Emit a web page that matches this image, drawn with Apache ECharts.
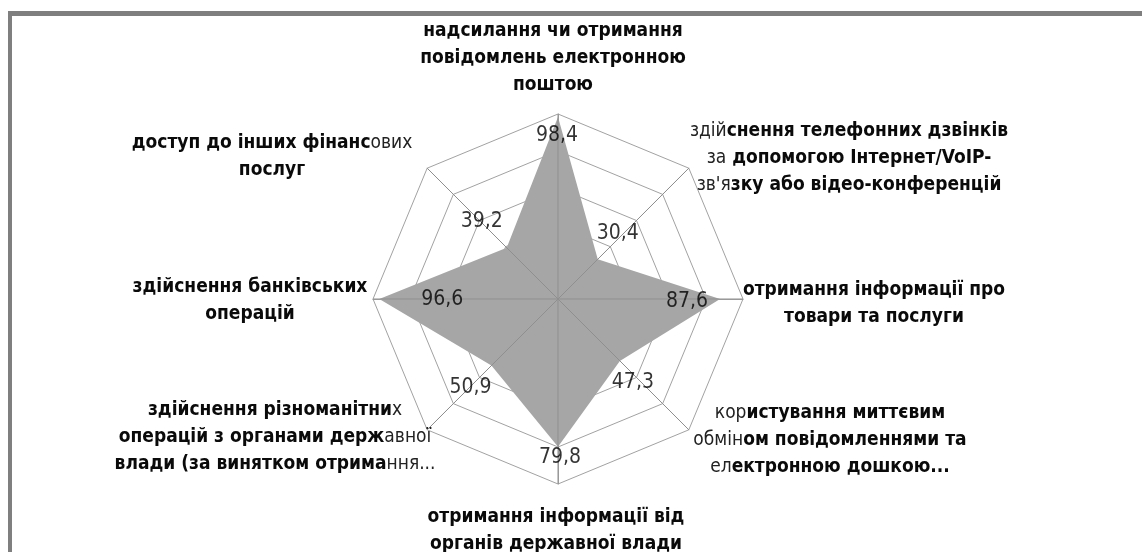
<!DOCTYPE html>
<html><head><meta charset="utf-8">
<script src="https://cdn.jsdelivr.net/npm/echarts@6/dist/echarts.min.js"></script>
<style>html,body{margin:0;padding:0;background:#fff}#c{width:1142px;height:552px}</style>
</head><body><div id="c"></div>
<script>
// ---- data (Excel order, clockwise from top) ----
const categories = [
  "надсилання чи отримання\nповідомлень електронною\nпоштою",
  "здійснення телефонних дзвінків\nза допомогою Інтернет/VoIP-\nзв'язку або відео-конференцій",
  "отримання інформації про\nтовари та послуги",
  "користування миттєвим\nобміном повідомленнями та\nелектронною дошкою...",
  "отримання інформації від\nорганів державної влади",
  "здійснення різноманітних\nоперацій з органами державної\nвлади (за винятком отримання...",
  "здійснення банківських\nоперацій",
  "доступ до інших фінансових\nпослуг"
];
const values = [98.4, 30.4, 87.6, 47.3, 79.8, 50.9, 96.6, 39.2];
const axisMax = 100;
const ringCount = 5;

// ---- layout / style (not data) ----
const CENTER = [558, 299], RADIUS = 185;
const labelOffsets = [[-1,19],[20,-26],[-33,3],[13,22],[2,11],[-21,22],[63,1],[-25,-26]];
const nameBoxes = [[553,58],[849,158],[874,304],[830,440],[556,531],[275,437],[250,301],[272,157]];
// light-weight fragments per line: [prefixLen, suffixLen]
const lightParts = [
  [[0,0],[0,0],[0,0]],
  [[4,0],[2,0],[4,0]],
  [[0,0],[0,0]],
  [[3,0],[5,0],[2,0]],
  [[0,0],[0,0]],
  [[0,1],[0,5],[0,6]],
  [[0,0],[0,0]],
  [[0,4],[0,0]]
];
const FONT = "'DejaVu Sans Condensed','Liberation Sans Narrow',sans-serif";

// ECharts radar runs counter-clockwise; reorder so the picture runs clockwise
const order = [0,7,6,5,4,3,2,1];
const ordCats = order.map(i => categories[i]);
const ordVals = order.map(i => values[i]);

function richLabel(text, parts){
  return text.split('\n').map((line, li) => {
    const [p, s] = parts[li] || [0,0];
    const a = line.slice(0, p), b = line.slice(p, line.length - s), c = line.slice(line.length - s);
    let out = '';
    if (a) out += '{l|' + a + '}';
    if (b) out += '{b|' + b + '}';
    if (c) out += '{l|' + c + '}';
    return out;
  }).join('\n');
}

const graphics = [
  {type:'rect', shape:{x:8, y:11, width:1134, height:5}, style:{fill:'#7f7f7f'}, z:10},
  {type:'rect', shape:{x:8, y:11, width:4, height:541}, style:{fill:'#7f7f7f'}, z:10}
];
categories.forEach((c, i) => {
  graphics.push({
    type:'text', x: nameBoxes[i][0], y: nameBoxes[i][1], z: 10,
    style:{
      text: richLabel(c, lightParts[i]),
      align:'center', verticalAlign:'middle',
      rich:{
        b:{fontFamily:FONT, fontWeight:'bold', fontSize:19, lineHeight:27, fill:'#0a0a0a', align:'center'},
        l:{fontFamily:FONT, fontWeight:'normal', fontSize:19, lineHeight:27, fill:'#222', align:'center'}
      }
    }
  });
});

const chart = echarts.init(document.getElementById('c'), null, {renderer:'canvas'});
chart.setOption({
  backgroundColor:'#ffffff',
  animation:false,
  radar:{
    center: CENTER, radius: RADIUS, startAngle: 90, splitNumber: ringCount, shape:'polygon',
    indicator: ordCats.map(n => ({name:n, min:0, max:axisMax})),
    axisName:{show:false},
    axisLine:{lineStyle:{color:'#a2a2a2', width:1}},
    splitLine:{lineStyle:{color:'#a2a2a2', width:1}},
    splitArea:{show:false}
  },
  polar:{center: CENTER, radius: RADIUS},
  angleAxis:{
    type:'category', data: ordCats, startAngle:90, clockwise:false, boundaryGap:false,
    axisLine:{show:false}, axisTick:{show:false}, axisLabel:{show:false},
    splitLine:{show:true, lineStyle:{color:'#8f8f8f', width:1}}, z:5
  },
  radiusAxis:{min:0, max:axisMax, axisLine:{show:false}, axisTick:{show:false}, axisLabel:{show:false}, splitLine:{show:false}},
  series:[
    {
      type:'radar', z:2, symbol:'none',
      lineStyle:{width:0, color:'#a6a6a6'},
      areaStyle:{color:'#a6a6a6', opacity:1},
      data:[{value: ordVals}]
    },
    {
      type:'scatter', coordinateSystem:'polar', z:6, symbolSize:1,
      itemStyle:{color:'rgba(0,0,0,0)'}, silent:true,
      data: order.map((orig, k) => ({
        value:[values[orig], k],
        label:{offset: labelOffsets[orig]}
      })),
      label:{
        show:true, position:'inside', fontFamily:FONT, fontSize:21, color:'#000',
        textBorderWidth:0,
        formatter: p => p.value[0].toFixed(1).replace('.', ',')
      }
    }
  ],
  graphic: graphics
});
</script></body></html>
